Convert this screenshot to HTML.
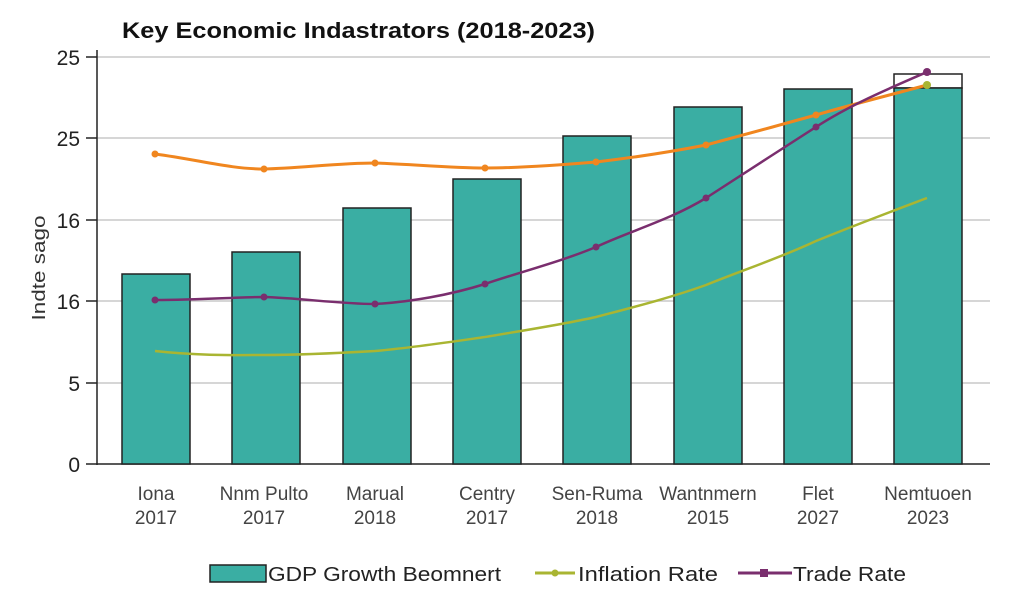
<!DOCTYPE html>
<html><head><meta charset="utf-8"><style>
html,body{margin:0;padding:0;background:#fff;}
svg{display:block;font-family:"Liberation Sans",sans-serif;}
</style></head><body>
<svg width="1024" height="613" viewBox="0 0 1024 613" xmlns="http://www.w3.org/2000/svg">
<rect width="1024" height="613" fill="#fff"/>
<text x="122" y="38" font-size="22" font-weight="bold" fill="#111" textLength="473" lengthAdjust="spacingAndGlyphs">Key Economic Indastrators (2018-2023)</text>
<g stroke="#c8c8c8" stroke-width="1.5">
<line x1="97" y1="57" x2="990" y2="57"/>
<line x1="97" y1="138" x2="990" y2="138"/>
<line x1="97" y1="220" x2="990" y2="220"/>
<line x1="97" y1="301" x2="990" y2="301"/>
<line x1="97" y1="383" x2="990" y2="383"/>
</g>
<g stroke="#222" stroke-width="1.5">
<line x1="97" y1="50" x2="97" y2="465"/>
<line x1="97" y1="464" x2="990" y2="464"/>
<line x1="86" y1="57" x2="97" y2="57"/>
<line x1="86" y1="138" x2="97" y2="138"/>
<line x1="86" y1="220" x2="97" y2="220"/>
<line x1="86" y1="301" x2="97" y2="301"/>
<line x1="86" y1="383" x2="97" y2="383"/>
<line x1="86" y1="464" x2="97" y2="464"/>
</g>
<g font-size="21" fill="#222" text-anchor="end">
<text x="80" y="65">25</text><text x="80" y="146">25</text><text x="80" y="228">16</text>
<text x="80" y="309">16</text><text x="80" y="391">5</text><text x="80" y="472">0</text>
</g>
<text transform="translate(45,268) rotate(-90)" font-size="18" fill="#333" text-anchor="middle" textLength="105" lengthAdjust="spacingAndGlyphs">Indte sago</text>
<g fill="#3aaea3" stroke="#222" stroke-width="1.5">
<rect x="122" y="274" width="68" height="190"/>
<rect x="232" y="252" width="68" height="212"/>
<rect x="343" y="208" width="68" height="256"/>
<rect x="453" y="179" width="68" height="285"/>
<rect x="563" y="136" width="68" height="328"/>
<rect x="674" y="107" width="68" height="357"/>
<rect x="784" y="89" width="68" height="375"/>
<rect x="894" y="74" width="68" height="14" fill="#fff"/>
<rect x="894" y="88" width="68" height="376"/>
</g>
<path d="M155,351 C200,356 240,355 264,355 C300,355 340,353 375,351 C410,348 450,342 485,337 C520,331 560,325 596,317 C630,308 670,298 706,285 C740,271 780,258 816,241 C850,227 890,212 927,198" fill="none" stroke="#a9b532" stroke-width="2.5"/>
<path d="M155,154 C200,160 230,169 264,169 C300,168 340,163 375,163 C410,164 450,168 485,168 C520,168 560,165 596,162 C630,158 670,152 706,145 C740,136 780,125 816,115 C850,105 890,95 927,85" fill="none" stroke="#f0861f" stroke-width="3"/>
<path d="M155,300 C200,300 240,297 264,297 C300,298 340,304 375,304 C410,302 450,295 485,284 C520,272 560,262 596,247 C630,231 670,220 706,198 C740,176 780,150 816,127 C850,105 890,88 927,72" fill="none" stroke="#7a2e6e" stroke-width="2.5"/>
<g fill="#f0861f"><circle cx="155" cy="154" r="3.5"/><circle cx="264" cy="169" r="3.5"/><circle cx="375" cy="163" r="3.5"/><circle cx="485" cy="168" r="3.5"/><circle cx="596" cy="162" r="3.5"/><circle cx="706" cy="145" r="3.5"/><circle cx="816" cy="115" r="3.5"/><circle cx="927" cy="85" r="4" fill="#a9b532"/></g>
<g fill="#7a2e6e"><circle cx="155" cy="300" r="3.5"/><circle cx="264" cy="297" r="3.5"/><circle cx="375" cy="304" r="3.5"/><circle cx="485" cy="284" r="3.5"/><circle cx="596" cy="247" r="3.5"/><circle cx="706" cy="198" r="3.5"/><circle cx="816" cy="127" r="3.5"/><circle cx="927" cy="72" r="4"/></g>
<g font-size="19" fill="#444" text-anchor="middle">
<text x="156" y="500">Iona</text><text x="156" y="524">2017</text>
<text x="264" y="500">Nnm Pulto</text><text x="264" y="524">2017</text>
<text x="375" y="500">Marual</text><text x="375" y="524">2018</text>
<text x="487" y="500">Centry</text><text x="487" y="524">2017</text>
<text x="597" y="500">Sen-Ruma</text><text x="597" y="524">2018</text>
<text x="708" y="500">Wantnmern</text><text x="708" y="524">2015</text>
<text x="818" y="500">Flet</text><text x="818" y="524">2027</text>
<text x="928" y="500">Nemtuoen</text><text x="928" y="524">2023</text>
</g>
<rect x="210" y="565" width="56" height="17" fill="#3aaea3" stroke="#222" stroke-width="1.5"/>
<text x="268" y="581" font-size="20" fill="#222" textLength="233" lengthAdjust="spacingAndGlyphs">GDP Growth Beomnert</text>
<line x1="535" y1="573" x2="575" y2="573" stroke="#a9b532" stroke-width="3"/><circle cx="555" cy="573" r="3.5" fill="#a9b532"/>
<text x="578" y="581" font-size="20" fill="#222" textLength="140" lengthAdjust="spacingAndGlyphs">Inflation Rate</text>
<line x1="738" y1="573" x2="792" y2="573" stroke="#7a2e6e" stroke-width="3"/><rect x="760" y="569" width="8" height="8" fill="#7a2e6e"/>
<text x="793" y="581" font-size="20" fill="#222" textLength="113" lengthAdjust="spacingAndGlyphs">Trade Rate</text>
</svg>
</body></html>
